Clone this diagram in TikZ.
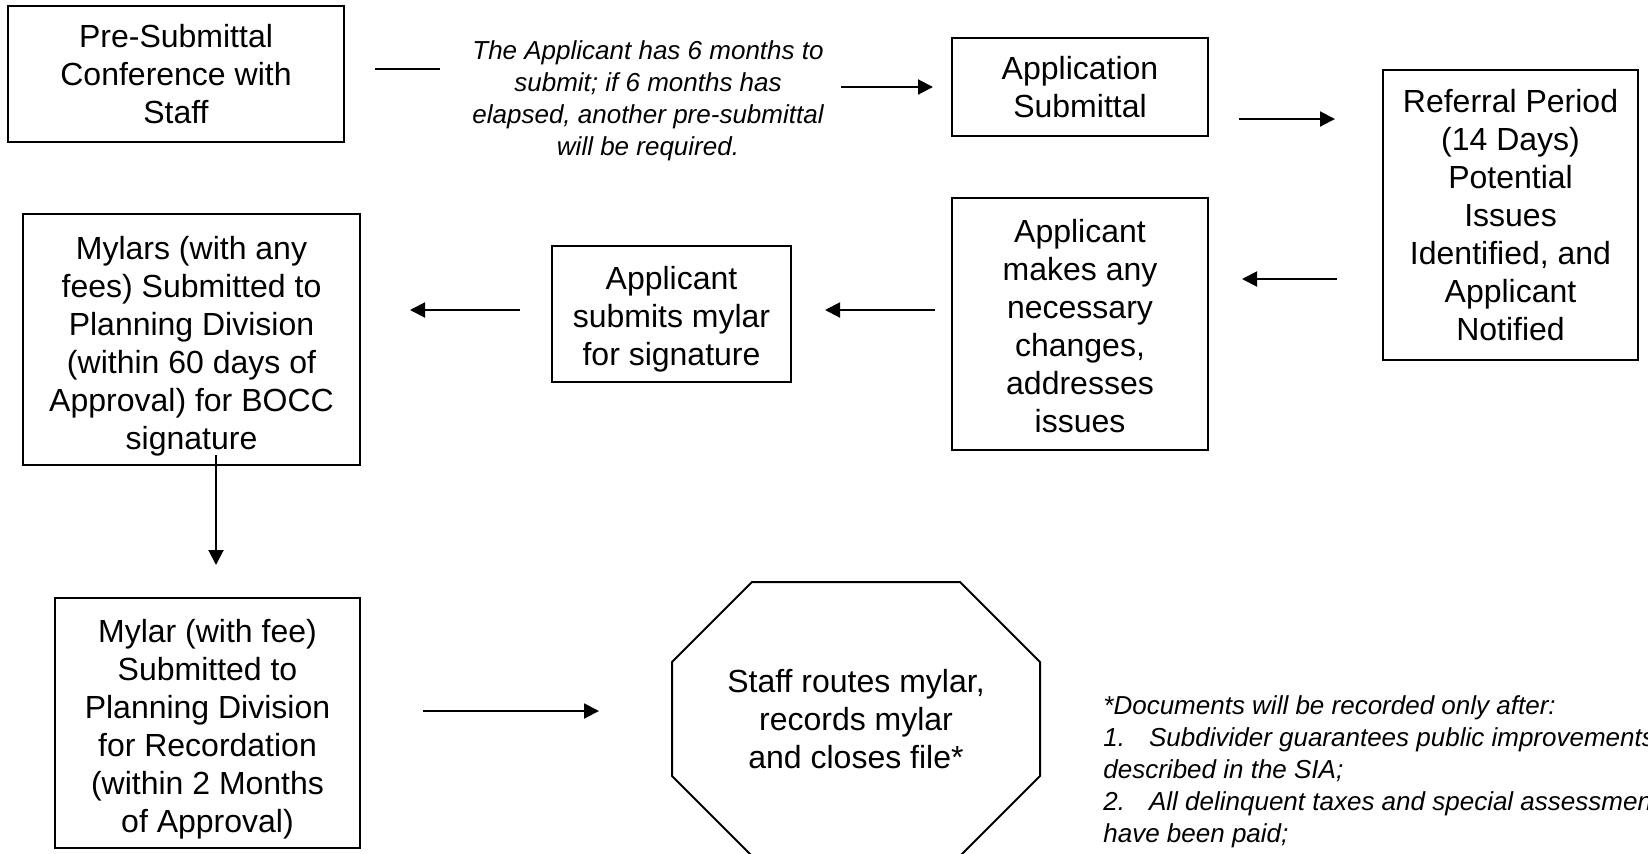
\documentclass[tikz,border=0pt]{standalone}
\usepackage{fontspec}
\setmainfont{Liberation Sans}
\usetikzlibrary{arrows.meta}

\newcommand{\topgap}[1]{\rule{0pt}{#1}}

\tikzset{
  stepbox/.style={draw, line width=1pt, inner sep=0pt, align=center, font=\fontsize{16}{19}\selectfont},
  note/.style={inner sep=0pt, font=\fontsize{13}{16}\selectfont\itshape},
  flow/.style={line width=1pt, -{Triangle[length=7.5pt,width=7.5pt]}},
}

\begin{document}
\begin{tikzpicture}[x=0.5pt,y=-0.5pt]
\useasboundingbox (0,0) rectangle (1648,853);
\node[stepbox, minimum width=168pt, minimum height=68pt] (pre) at (176,74) {Pre-Submittal\\Conference with\\Staff};
\node[note, align=center] (sixmonths) at (648,101) {The Applicant has 6 months to\\submit; if 6 months has\\elapsed, another pre-submittal\\will be required.};
\node[stepbox, minimum width=128pt, minimum height=49pt] (submit) at (1080,87) {Application\\Submittal};
\node[stepbox, minimum width=127.5pt, minimum height=145pt] (referral) at (1510.5,215) {Referral Period\\(14 Days)\\Potential\\Issues\\Identified, and\\Applicant\\Notified};
\node[stepbox, minimum width=128pt, minimum height=126pt] (changes) at (1080,324) {\topgap{13.5pt}Applicant\\makes any\\necessary\\changes,\\addresses\\issues};
\node[stepbox, minimum width=119.5pt, minimum height=68pt] (mylar) at (671.5,314) {\topgap{17pt}Applicant\\submits mylar\\for signature};
\node[stepbox, minimum width=168.5pt, minimum height=125.5pt] (bocc) at (191.5,339.5) {\topgap{18pt}Mylars (with any\\fees) Submitted to\\Planning Division\\(within 60 days of\\Approval) for BOCC\\signature};
\node[stepbox, minimum width=152.5pt, minimum height=125pt] (record) at (207.5,723) {\topgap{17.5pt}Mylar (with fee)\\Submitted to\\Planning Division\\for Recordation\\(within 2 Months\\of Approval)};
% octagon
\draw[line width=1pt] (752,582) -- (960,582) -- (1040,662) -- (1040,776) -- (960,856) -- (752,856) -- (672,776) -- (672,662) -- cycle;
\node[inner sep=0pt, align=center, font=\fontsize{16}{19}\selectfont] (staff) at (856,719) {Staff routes mylar,\\records mylar\\and closes file*};
\node[note, align=left, anchor=base west] (after) at (1103,842) {*Documents will be recorded only after:\\1.\hspace{12pt}Subdivider guarantees public improvements\\described in the SIA;\\2.\hspace{12pt}All delinquent taxes and special assessments\\have been paid;};
% arrow ends
\coordinate (l1) at (375,69);
\coordinate (l2) at (440,69);
\coordinate (a1) at (841,87);
\coordinate (a2) at (933,87);
\coordinate (b1) at (1239,119);
\coordinate (b2) at (1335,119);
\coordinate (c1) at (1337,279);
\coordinate (c2) at (1242,279);
\coordinate (d1) at (935,310);
\coordinate (d2) at (825,310);
\coordinate (e1) at (520,310);
\coordinate (e2) at (410,310);
\coordinate (f1) at (216,455);
\coordinate (f2) at (216,565);
\coordinate (g1) at (423,711);
\coordinate (g2) at (599,711);
\draw[line width=1pt] (l1) -- (l2);
\draw[flow] (a1) -- (a2);
\draw[flow] (b1) -- (b2);
\draw[flow] (c1) -- (c2);
\draw[flow] (d1) -- (d2);
\draw[flow] (e1) -- (e2);
\draw[flow] (f1) -- (f2);
\draw[flow] (g1) -- (g2);
\end{tikzpicture}
\end{document}
